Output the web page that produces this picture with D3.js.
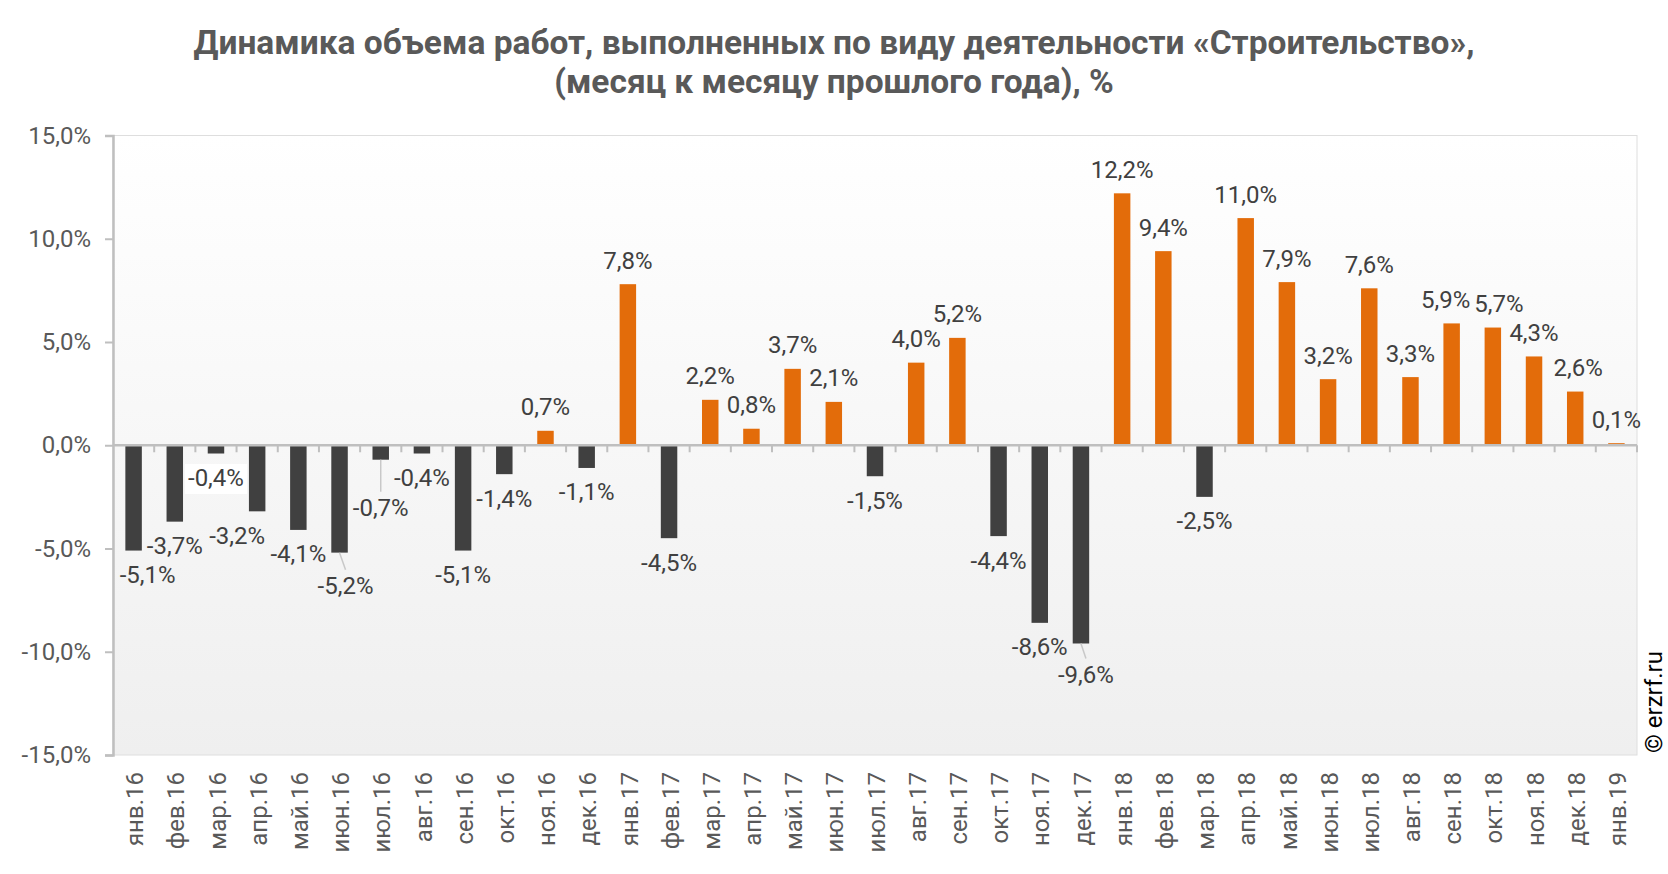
<!DOCTYPE html>
<html><head><meta charset="utf-8">
<script src="https://cdn.jsdelivr.net/npm/d3@7"></script>
<style>
html,body{margin:0;padding:0;background:#fff;}
svg{display:block;font-family:Roboto,"Noto Sans",sans-serif;}
</style></head>
<body>
<svg id="chart" width="1668" height="874"></svg>
<script>
const titleLines = ["Динамика объема работ, выполненных по виду деятельности «Строительство»,", "(месяц к месяцу прошлого года), %"];
const categories = ["янв.16","фев.16","мар.16","апр.16","май.16","июн.16","июл.16","авг.16","сен.16","окт.16","ноя.16","дек.16",
  "янв.17","фев.17","мар.17","апр.17","май.17","июн.17","июл.17","авг.17","сен.17","окт.17","ноя.17","дек.17",
  "янв.18","фев.18","мар.18","апр.18","май.18","июн.18","июл.18","авг.18","сен.18","окт.18","ноя.18","дек.18","янв.19"];
const values = [-5.1,-3.7,-0.4,-3.2,-4.1,-5.2,-0.7,-0.4,-5.1,-1.4,0.7,-1.1,
  7.8,-4.5,2.2,0.8,3.7,2.1,-1.5,4.0,5.2,-4.4,-8.6,-9.6,
  12.2,9.4,-2.5,11.0,7.9,3.2,7.6,3.3,5.9,5.7,4.3,2.6,0.1];
const yTicks = [-15,-10,-5,0,5,10,15];
const copyright = "© erzrf.ru";

// layout-only adjustments of label placement (px)
const labelNudge = {0:[14,0],3:[-20,0],5:[6,9],6:[0,24],23:[5,7],32:[-6,0],33:[6,0],35:[3,0]};
const leaderIdx = [5,6,23];
const labelBgIdx = [2];

const fmt = v => v.toFixed(1).replace(".", ",") + "%";

const svg = d3.select("#chart");
const L = 113, R = 1637, T = 135.5, B = 755;
const x = d3.scaleBand().domain(categories).range([L, R]).paddingInner(0.6).paddingOuter(0.3);
const xb = d3.scaleBand().domain(categories).range([L, R]);
const y = d3.scaleLinear().domain([-15, 15]).range([B, T]);

// gradient background
const defs = svg.append("defs");
const grad = defs.append("linearGradient").attr("id","bg").attr("x1",0).attr("y1",0).attr("x2",0).attr("y2",1);
grad.append("stop").attr("offset","0%").attr("stop-color","#ffffff");
grad.append("stop").attr("offset","100%").attr("stop-color","#efefef");
svg.append("rect").attr("x",L).attr("y",T).attr("width",R-L).attr("height",B-T)
  .attr("fill","url(#bg)").attr("stroke","#dedede").attr("stroke-width",1);

// title
const title = svg.append("g").attr("fill","#595959").attr("font-weight","bold").attr("font-size",33.5).attr("text-anchor","middle");
titleLines.forEach((t,i)=>{
  title.append("text").attr("x",834).attr("y",54 + i*38.5).text(t);
});

// bars
svg.append("g").selectAll("rect").data(values).join("rect")
  .attr("x",(d,i)=>x(categories[i]))
  .attr("width",x.bandwidth())
  .attr("y",d=>d>=0?y(d):y(0))
  .attr("height",d=>Math.abs(y(d)-y(0)))
  .attr("fill",d=>d>=0?"#e36c0a":"#404040");

// y axis
const yAxis = d3.axisLeft(y).tickValues(yTicks).tickSize(8).tickPadding(14).tickFormat(d=>fmt(d));
const ya = svg.append("g").attr("transform",`translate(${L},0)`).call(yAxis);
ya.select(".domain").attr("stroke","#bfbfbf").attr("stroke-width",2.5);
ya.selectAll(".tick line").attr("stroke","#bfbfbf").attr("stroke-width",2);
ya.selectAll(".tick text").attr("fill","#595959").attr("font-size",24).attr("font-family","Roboto");

// zero line with category separators
const zeroY = y(0);
svg.append("line").attr("x1",L).attr("x2",R).attr("y1",zeroY).attr("y2",zeroY)
  .attr("stroke","#bfbfbf").attr("stroke-width",2.5);
const sepData = categories.map(c=>xb(c)).slice(1).concat([R]);
svg.append("g").selectAll("line").data(sepData).join("line")
  .attr("x1",d=>d).attr("x2",d=>d).attr("y1",zeroY).attr("y2",zeroY+7)
  .attr("stroke","#bfbfbf").attr("stroke-width",2);

// x labels (rotated)
svg.append("g").selectAll("text").data(categories).join("text")
  .attr("transform",c=>`translate(${xb(c)+xb.bandwidth()/2+1},772) rotate(-90)`)
  .attr("text-anchor","end").attr("dy","0.36em")
  .attr("fill","#595959").attr("font-size",24).text(c=>c);

// data labels
const lab = svg.append("g").attr("font-size",24).attr("fill","#404040").attr("text-anchor","middle");
values.forEach((v,i)=>{
  const cx = x(categories[i]) + x.bandwidth()/2;
  const n = labelNudge[i] || [0,0];
  const ly = (v>=0 ? y(v)-24 : y(v)+24) + n[1];
  const lx = cx + n[0];
  if (leaderIdx.includes(i)) {
    lab.append("line").attr("x1",cx).attr("y1",y(v)).attr("x2",lx).attr("y2",ly-16)
      .attr("stroke","#c8c8c8").attr("stroke-width",1.5);
  }
  const t = lab.append("text").attr("x",lx).attr("y",ly).attr("dy","0.35em").text(fmt(v));
  if (labelBgIdx.includes(i)) {
    const bb = t.node().getBBox();
    lab.insert("rect","text").attr("x",bb.x-3).attr("y",bb.y).attr("width",bb.width+6).attr("height",bb.height+2)
      .attr("fill","#ffffff");
  }
});

// copyright
svg.append("text").attr("transform","translate(1653,753) rotate(-90)").attr("dy","0.36em")
  .attr("font-size",24).attr("fill","#000").text(copyright);
</script>
</body></html>
